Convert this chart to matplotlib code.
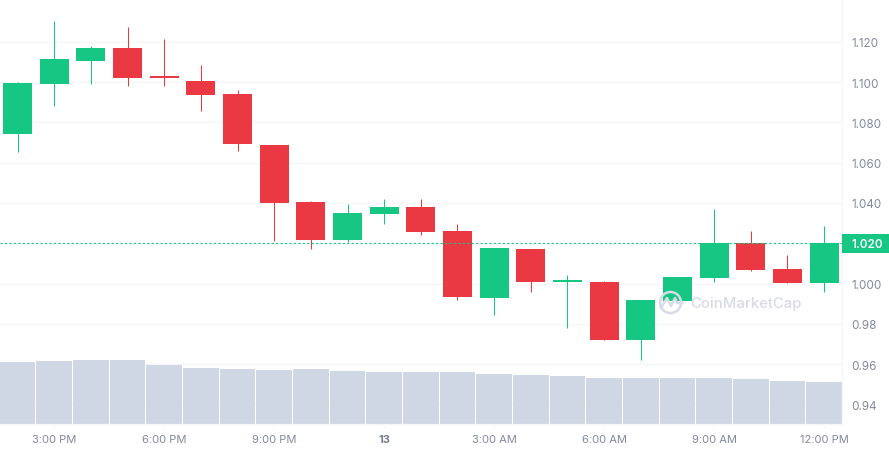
import numpy as np
import matplotlib
matplotlib.use("Agg")
import matplotlib.pyplot as plt
from matplotlib.lines import Line2D
from matplotlib.patches import Circle, Rectangle
from matplotlib.transforms import IdentityTransform, ScaledTranslation

plt.rcParams['font.family'] = ['Inter', 'DejaVu Sans']

# ----------------------------
# Data
# ----------------------------
opens = [1.0742, 1.0990, 1.1105, 1.1169, 1.1030, 1.1005, 1.0941, 1.0688,
         1.0405, 1.0216, 1.0345, 1.0380, 1.0261, 0.9929, 1.0172, 1.0008,
         1.0008, 0.9720, 0.9914, 1.0028, 1.0201, 1.0072, 1.0003]
highs = [1.1000, 1.1303, 1.1179, 1.1273, 1.1214, 1.1085, 1.0961, 1.0688,
         1.0410, 1.0395, 1.0420, 1.0420, 1.0296, 1.0177, 1.0172, 1.0043,
         1.0013, 0.9919, 1.0033, 1.0372, 1.0261, 1.0142, 1.0286]
lows = [1.0653, 1.0881, 1.0990, 1.0981, 1.0981, 1.0857, 1.0658, 1.0211,
        1.0172, 1.0206, 1.0296, 1.0241, 0.9919, 0.9844, 0.9958, 0.9780,
        0.9720, 0.9621, 0.9914, 1.0008, 1.0062, 1.0003, 0.9958]
closes = [1.0995, 1.1115, 1.1169, 1.1020, 1.1020, 1.0936, 1.0693, 1.0400,
          1.0216, 1.0350, 1.0380, 1.0256, 0.9933, 1.0177, 1.0008, 1.0018,
          0.9720, 0.9919, 1.0033, 1.0201, 1.0067, 1.0003, 1.0201]
# volume has no axis on the chart, so these are just relative heights
volumes = [62, 63, 64, 64, 59, 56, 55, 54, 55, 53, 52, 52, 52, 50, 49, 48,
           46, 46, 46, 46, 45, 43, 42]

price_ticks = [0.94, 0.96, 0.98, 1.00, 1.02, 1.04, 1.06, 1.08, 1.10, 1.12]
price_labels = ["0.94", "0.96", "0.98", "1.000", "1.020", "1.040", "1.060",
                "1.080", "1.100", "1.120"]
time_ticks = [1, 4, 7, 10, 13, 16, 19, 22]
time_labels = ["3:00 PM", "6:00 PM", "9:00 PM", "13", "3:00 AM", "6:00 AM",
               "9:00 AM", "12:00 PM"]
last_price = 1.020

GREEN = "#16c784"
RED = "#ea3943"
GREY = "#808a9d"
GRID = "#f5f6f8"
BAR = "#cfd6e4"
MARK = "#d6dbe6"

W, H = 889, 450
Y_MIN, Y_MAX = 0.9303, 1.1407


def draw_volume(ax):
    # volume bars sit on the bottom of the price axis
    scale = (Y_MAX - Y_MIN) / 424
    x = np.arange(len(volumes))
    ax.bar(x, np.array(volumes) * scale, bottom=Y_MIN, width=0.972,
           color=BAR, linewidth=0, zorder=2)


def draw_candles(ax):
    for i, (o, h, l, c) in enumerate(zip(opens, highs, lows, closes)):
        color = GREEN if c >= o else RED
        ax.vlines(i, l, h, color=color, linewidth=0.75, zorder=3)
        ax.bar(i, abs(c - o), bottom=min(o, c), width=0.79, color=color,
               linewidth=0, zorder=4)


def draw_watermark(fig):
    px = IdentityTransform()
    fig.text(690 / W, 1 - 304 / H, "CoinMarketCap", color=MARK,
             fontsize=10.7, fontweight="medium", va="center", ha="left",
             zorder=8)
    fig.add_artist(Circle((670.5, H - 302.5), 10.5, transform=px, fill=False,
                          edgecolor=MARK, linewidth=1.8, zorder=8))
    fig.add_artist(Line2D([661, 667, 671, 675, 677, 682],
                          [H - 308, H - 298, H - 306, H - 298, H - 303, H - 303],
                          transform=px, color=MARK, linewidth=1.8, zorder=8))


def main():
    fig = plt.figure(figsize=(W / 100, H / 100), dpi=100, facecolor="white")
    ax = fig.add_axes([0, 1 - 424 / H, 842 / W, 424 / H])
    ax.set_xlim(-0.48, 22.49)
    ax.set_ylim(Y_MIN, Y_MAX)

    ax.set_yticks(price_ticks)
    ax.set_yticklabels(price_labels)
    ax.yaxis.tick_right()
    ax.set_axisbelow(True)
    ax.grid(axis="y", color=GRID, linewidth=1)
    ax.tick_params(axis="y", length=0, pad=7, labelsize=8.4, labelcolor=GREY)
    ax.set_xticks(time_ticks)
    ax.set_xticklabels(time_labels)
    ax.tick_params(axis="x", length=3, width=0.8, color=GRID, pad=5,
                   labelsize=8, labelcolor=GREY)
    for tick in ax.get_xticklabels():
        if tick.get_text() == "13":
            tick.set_fontweight("bold")
            tick.set_color("#747e93")

    # labels sit one pixel lower than matplotlib centres them
    nudge = ScaledTranslation(0, -1 / 100, fig.dpi_scale_trans)
    for lab in ax.get_yticklabels():
        lab.set_transform(lab.get_transform() + nudge)

    for side in ("top", "left"):
        ax.spines[side].set_visible(False)
    for side in ("right", "bottom"):
        ax.spines[side].set_color(GRID)
        ax.spines[side].set_linewidth(1)

    draw_volume(ax)
    draw_candles(ax)
    ax.axhline(last_price, color=GREEN, linewidth=0.8,
               linestyle=(0, (2, 2)), zorder=5)

    # price badge replaces the normal 1.020 tick label
    fig.add_artist(Rectangle((842 / W, 1 - 253 / H), 47 / W, 19 / H,
                             transform=fig.transFigure, color=GREEN,
                             linewidth=0, zorder=6))
    fig.text(852 / W, 1 - 244.5 / H, "1.020", color="white", fontsize=8.4,
             fontweight="semibold", va="center", ha="left", zorder=7)
    for lab in ax.get_yticklabels():
        if lab.get_text() == "1.020":
            lab.set_visible(False)

    draw_watermark(fig)

    fig.savefig("out.png", dpi=100)


if __name__ == "__main__":
    main()
